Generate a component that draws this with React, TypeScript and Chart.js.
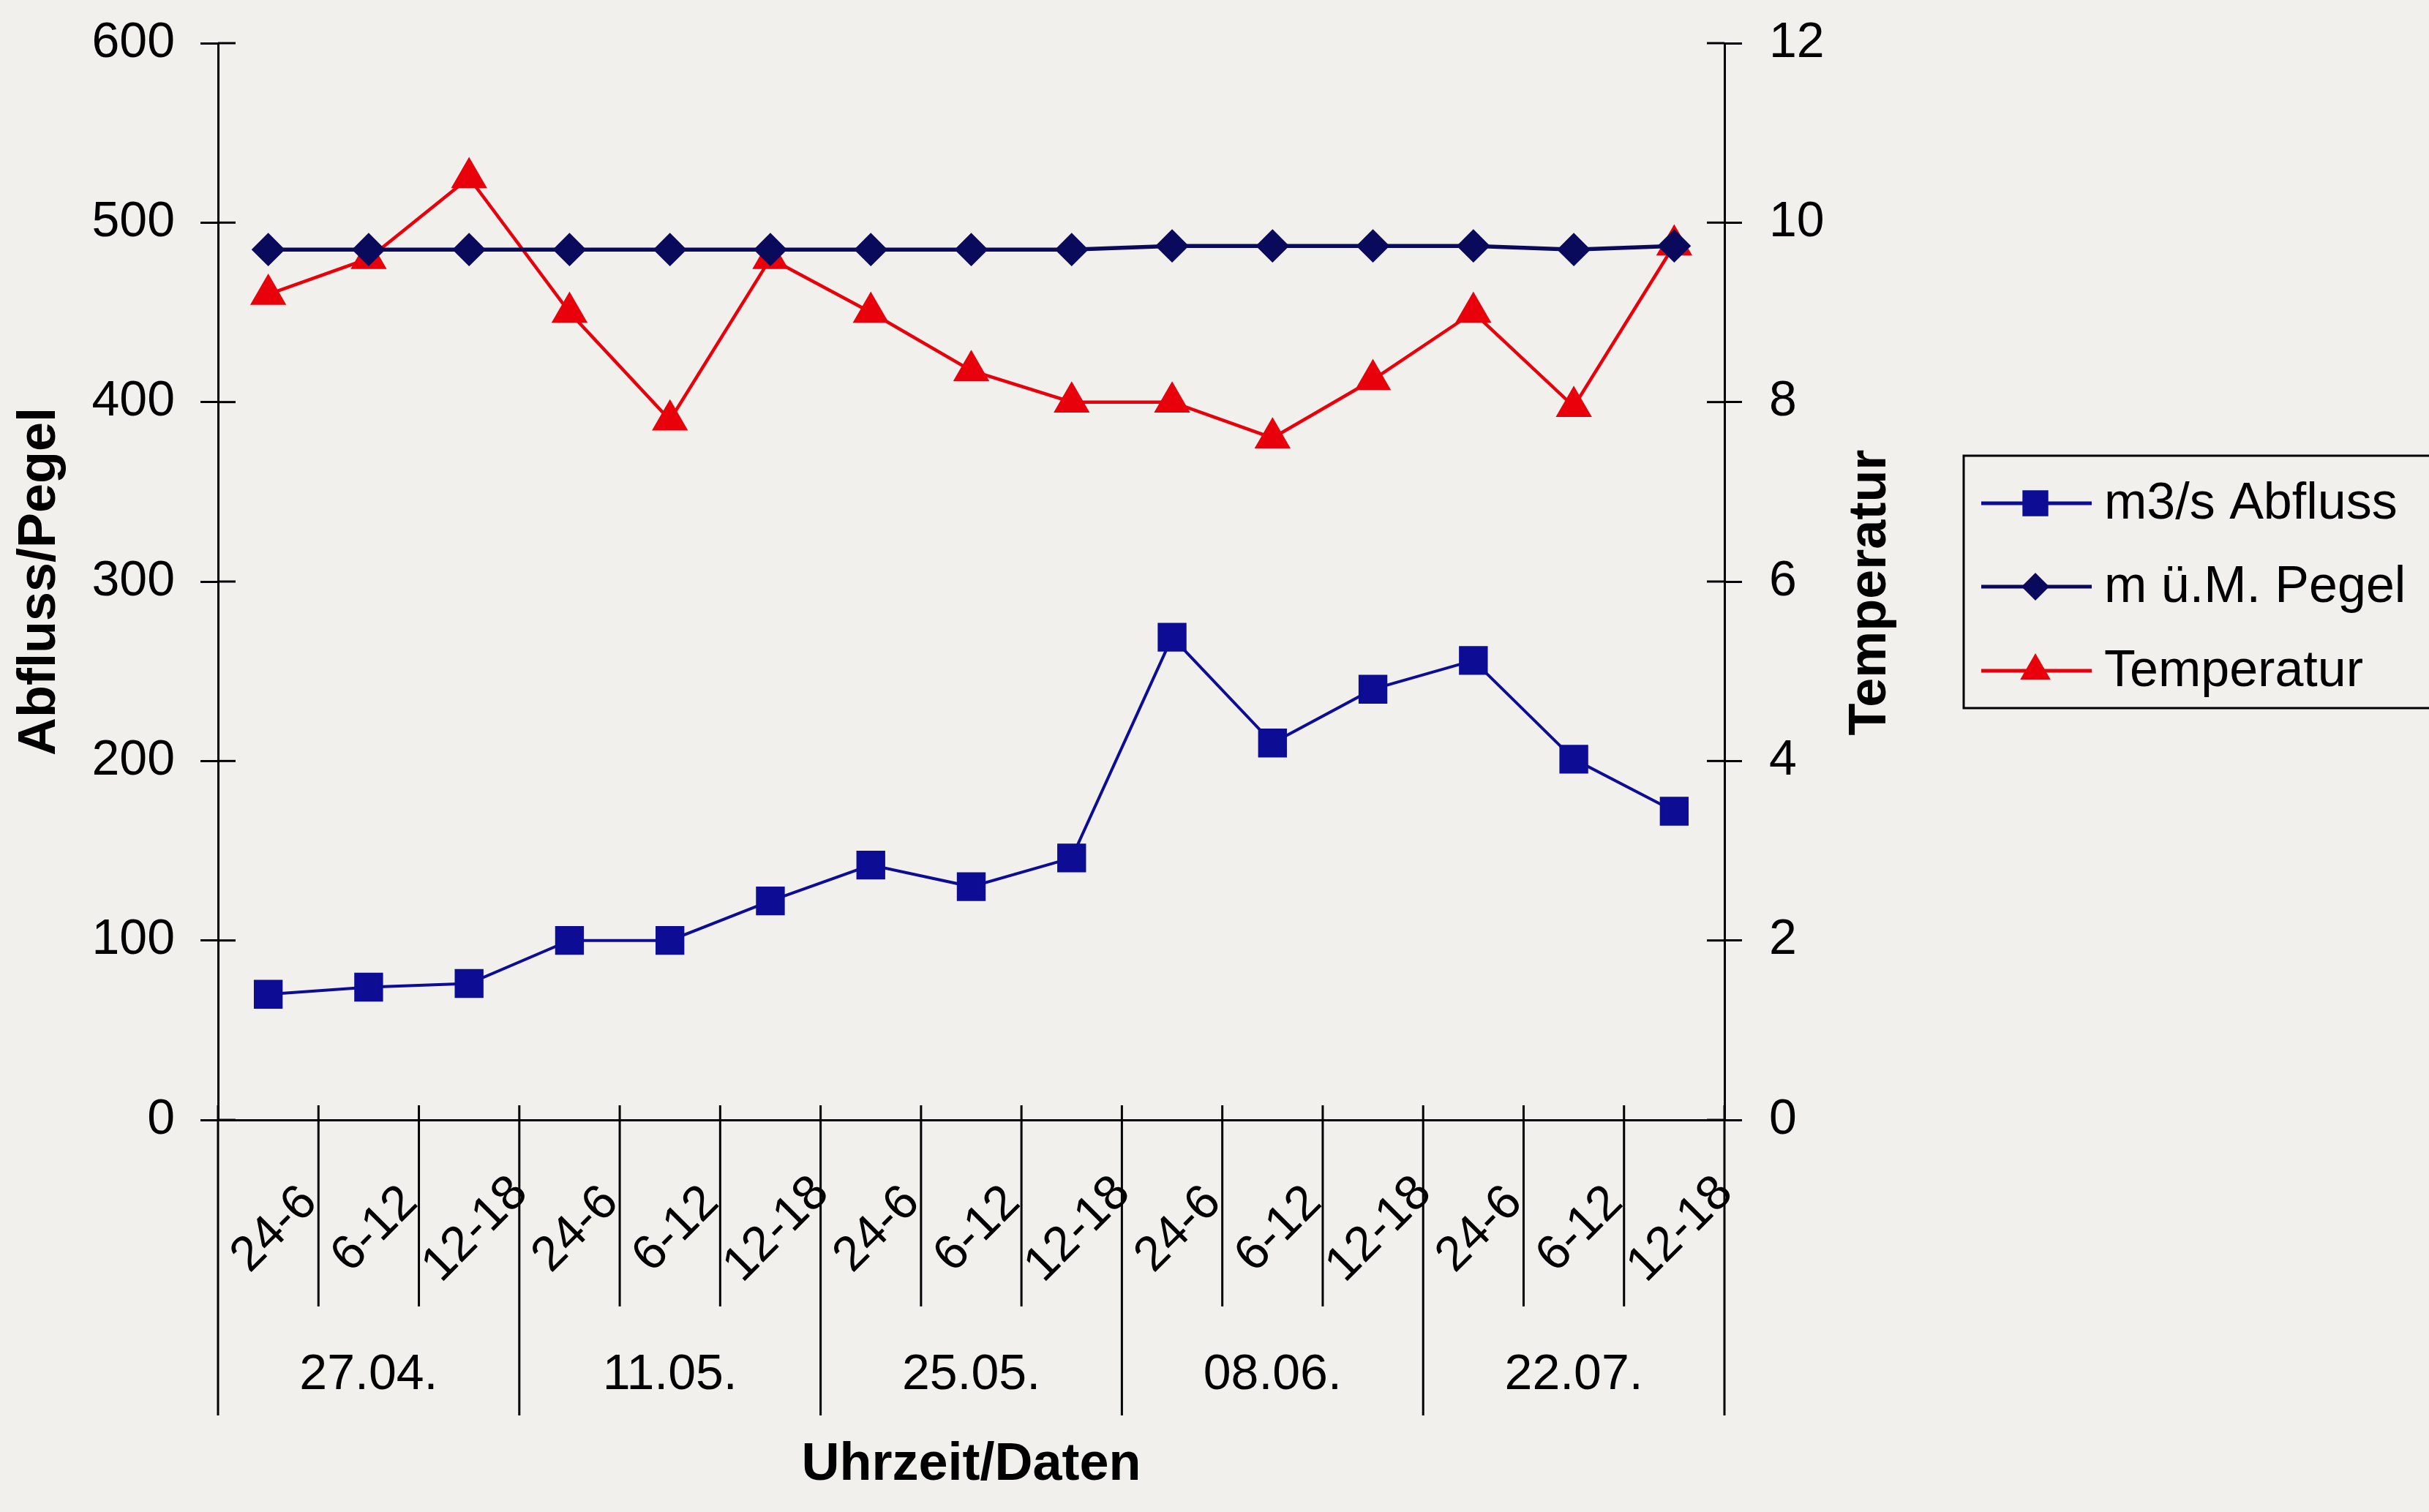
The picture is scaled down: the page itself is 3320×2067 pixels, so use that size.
import React, { useEffect, useRef } from 'react';
import { Chart, registerables } from 'chart.js';

Chart.register(...registerables);

const categories = [
  '24-6', '6-12', '12-18',
  '24-6', '6-12', '12-18',
  '24-6', '6-12', '12-18',
  '24-6', '6-12', '12-18',
  '24-6', '6-12', '12-18',
];
const dateLabels = ['27.04.', '11.05.', '25.05.', '08.06.', '22.07.'];
const abfluss = [70, 74, 76, 100, 100, 122, 142, 130, 146, 269, 210, 240, 256, 201, 172];
const pegel = [485, 485, 485, 485, 485, 485, 485, 485, 485, 487, 487, 487, 487, 485, 487];
const temperatur = [9.2, 9.6, 10.5, 9.0, 7.8, 9.6, 9.0, 8.35, 8.0, 8.0, 7.6, 8.25, 9.0, 7.95, 9.75];
const leftAxis = { min: 0, max: 600, step: 100 };
const rightAxis = { min: 0, max: 12, step: 2 };
const seriesNames = ['m3/s Abfluss', 'm ü.M. Pegel', 'Temperatur'];
const axisTitles = { x: 'Uhrzeit/Daten', left: 'Abfluss/Pegel', right: 'Temperatur' };

const FONT = '"Liberation Sans", Arial, Helvetica, sans-serif';
const BG = '#f2f0ec';
const W = 3320;
const H = 2067;

function drawMarker(ctx: CanvasRenderingContext2D, style: string, x: number, y: number, r: number) {
  ctx.beginPath();
  if (style === 'rect') {
    const s = r * Math.SQRT1_2;
    ctx.rect(x - s, y - s, 2 * s, 2 * s);
  } else if (style === 'rectRot') {
    ctx.moveTo(x - r, y);
    ctx.lineTo(x, y - r);
    ctx.lineTo(x + r, y);
    ctx.lineTo(x, y + r);
    ctx.closePath();
  } else {
    const a = (2 * Math.PI) / 3;
    ctx.moveTo(x, y - r);
    ctx.lineTo(x + Math.sin(a) * r, y - Math.cos(a) * r);
    ctx.lineTo(x + Math.sin(2 * a) * r, y - Math.cos(2 * a) * r);
    ctx.closePath();
  }
  ctx.fill();
}

const decorPlugin = {
  id: 'decor',
  beforeDraw(chart: any) {
    const { ctx } = chart;
    ctx.save();
    ctx.fillStyle = BG;
    ctx.fillRect(0, 0, chart.width, chart.height);
    ctx.restore();
  },
  afterDraw(chart: any) {
    const { ctx, chartArea, scales } = chart;
    const xs = scales.x;
    const yl = scales.y;
    const yr = scales.y1;
    ctx.save();
    ctx.strokeStyle = '#000';
    ctx.lineWidth = 3;
    const line = (x1: number, y1: number, x2: number, y2: number) => {
      ctx.beginPath();
      ctx.moveTo(x1, y1);
      ctx.lineTo(x2, y2);
      ctx.stroke();
    };
    // inner halves of cross ticks
    yl.ticks.forEach((t: any) => {
      const py = yl.getPixelForValue(t.value);
      line(chartArea.left, py, chartArea.left + 24, py);
    });
    yr.ticks.forEach((t: any) => {
      const py = yr.getPixelForValue(t.value);
      line(chartArea.right - 24, py, chartArea.right, py);
    });
    // category separators
    for (let i = 0; i <= categories.length; i++) {
      const px = xs.getPixelForValue(i - 0.5);
      const long = i % 3 === 0;
      line(px, chartArea.bottom - 20, px, chartArea.bottom + (long ? 404 : 255));
    }
    // rotated category labels
    ctx.fillStyle = '#000';
    ctx.font = `67px ${FONT}`;
    ctx.textAlign = 'center';
    ctx.textBaseline = 'middle';
    categories.forEach((lab, i) => {
      const px = xs.getPixelForValue(i);
      ctx.save();
      ctx.translate(px + 9, chartArea.bottom + 150);
      ctx.rotate(-Math.PI / 4);
      ctx.fillText(lab, 0, 0);
      ctx.restore();
    });
    // date group labels
    ctx.font = `68px ${FONT}`;
    dateLabels.forEach((d, g) => {
      const a = xs.getPixelForValue(g * 3 - 0.5);
      const b = xs.getPixelForValue(g * 3 + 2.5);
      ctx.fillText(d, (a + b) / 2, chartArea.bottom + 349);
    });
    // right axis title (reads bottom-to-top)
    ctx.save();
    ctx.font = `bold 72px ${FONT}`;
    ctx.translate(2557, 810);
    ctx.rotate(-Math.PI / 2);
    ctx.fillText(axisTitles.right, 0, 0);
    ctx.restore();
    // legend
    ctx.lineWidth = 3;
    ctx.strokeStyle = '#000';
    ctx.strokeRect(2684, 623, 700, 345);
    const rows = [688, 802, 917];
    chart.data.datasets.forEach((ds: any, i: number) => {
      const y = rows[i];
      ctx.strokeStyle = ds.borderColor;
      ctx.lineWidth = 5;
      line(2708, y, 2859, y);
      ctx.fillStyle = ds.pointBackgroundColor;
      drawMarker(ctx, ds.pointStyle, 2782, y, ds.pointRadius);
      ctx.fillStyle = '#000';
      ctx.font = `70px ${FONT}`;
      ctx.textAlign = 'left';
      ctx.textBaseline = 'middle';
      ctx.fillText(ds.label, 2876, y + 2);
    });
    ctx.restore();
  },
};

export default function App() {
  const ref = useRef<HTMLCanvasElement | null>(null);

  useEffect(() => {
    if (!ref.current) return;
    const tickFont = { family: FONT, size: 68 };
    const titleFont = { family: FONT, size: 72, weight: 'bold' as const };
    const chart = new Chart(ref.current, {
      type: 'line',
      data: {
        labels: categories,
        datasets: [
          {
            label: seriesNames[0],
            data: abfluss,
            yAxisID: 'y',
            borderColor: '#0c0c94',
            backgroundColor: '#0c0c94',
            pointBackgroundColor: '#0c0c94',
            pointBorderColor: '#0c0c94',
            pointStyle: 'rect',
            pointRadius: 25,
            borderWidth: 4,
          },
          {
            label: seriesNames[1],
            data: pegel,
            yAxisID: 'y',
            borderColor: '#0a0a5c',
            backgroundColor: '#0a0a5c',
            pointBackgroundColor: '#0a0a5c',
            pointBorderColor: '#0a0a5c',
            pointStyle: 'rectRot',
            pointRadius: 19,
            borderWidth: 5.5,
          },
          {
            label: seriesNames[2],
            data: temperatur,
            yAxisID: 'y1',
            borderColor: '#e8000b',
            backgroundColor: '#e8000b',
            pointBackgroundColor: '#e8000b',
            pointBorderColor: '#e8000b',
            pointStyle: 'triangle',
            pointRadius: 24,
            borderWidth: 4.5,
          },
        ],
      },
      options: {
        animation: false,
        responsive: false,
        devicePixelRatio: 1,
        layout: { padding: { top: 59, left: 0, right: 0, bottom: 0 } },
        plugins: { legend: { display: false }, tooltip: { enabled: false } },
        elements: { line: { tension: 0 } },
        scales: {
          x: {
            type: 'category',
            offset: true,
            position: 'bottom',
            ticks: { display: false },
            grid: { display: false },
            border: { display: true, color: '#000', width: 3 },
            title: {
              display: true,
              text: axisTitles.x,
              color: '#000',
              font: titleFont,
              padding: { top: 0, bottom: 21 },
            },
            afterFit: (s: any) => { s.height = 536; },
          },
          y: {
            position: 'left',
            min: leftAxis.min,
            max: leftAxis.max,
            ticks: { stepSize: leftAxis.step, color: '#000', font: tickFont, padding: 35 },
            grid: { drawOnChartArea: false, drawTicks: true, tickLength: 24, color: '#000', lineWidth: 3 },
            border: { display: true, color: '#000', width: 3 },
            title: {
              display: true,
              text: axisTitles.left,
              color: '#000',
              font: titleFont,
              padding: { top: 12, bottom: 0 },
            },
            afterFit: (s: any) => { s.width = 298; s.paddingTop = 0; s.paddingBottom = 0; },
          },
          y1: {
            position: 'right',
            min: rightAxis.min,
            max: rightAxis.max,
            ticks: { stepSize: rightAxis.step, color: '#000', font: tickFont, padding: 37 },
            grid: { drawOnChartArea: false, drawTicks: true, tickLength: 24, color: '#000', lineWidth: 3 },
            border: { display: true, color: '#000', width: 3 },
            afterFit: (s: any) => { s.width = W - 2357; s.paddingTop = 0; s.paddingBottom = 0; },
          },
        },
      },
      plugins: [decorPlugin],
    });
    return () => chart.destroy();
  }, []);

  return (
    <div style={{ position: 'fixed', left: 0, top: 0, width: W, height: H, background: BG }}>
      <canvas ref={ref} width={W} height={H} style={{ display: 'block', width: W, height: H }} />
    </div>
  );
}
